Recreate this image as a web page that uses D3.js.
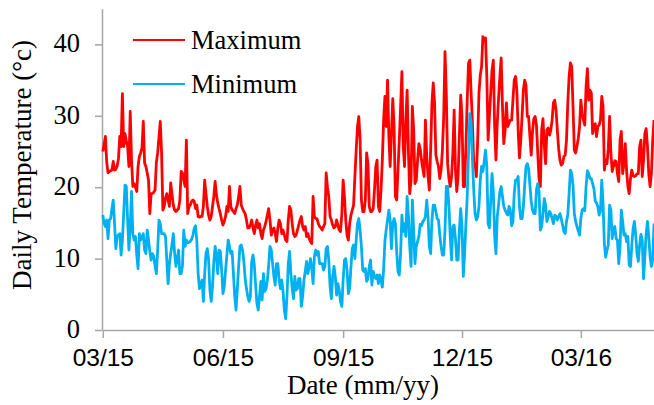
<!DOCTYPE html>
<html><head><meta charset="utf-8">
<script src="https://cdn.jsdelivr.net/npm/d3@7"></script>
<style>body{margin:0;background:#fff}svg{display:block}</style>
</head><body><svg id="chart" width="654" height="405"></svg>
<script>
// Daily series, starting 2015-03-01 (one value per day)
const startDateText = "2015-03-01";
const maxTemp = [
25.0,26.0,27.1,23.5,22.0,22.2,22.3,22.4,23.6,22.4,
22.5,23.0,24.0,27.1,25.7,33.1,25.7,27.5,26.5,25.7,
22.9,30.6,23.8,20.1,20.5,20.0,19.4,22.9,24.3,24.8,
25.5,29.2,23.4,22.9,22.0,21.0,16.3,19.1,19.1,19.3,
19.6,23.4,24.8,27.0,29.2,24.8,16.8,17.3,18.5,19.1,
18.2,17.3,20.6,19.0,17.5,16.8,16.6,16.8,17.0,18.2,
22.2,22.0,21.0,20.1,26.6,16.3,17.3,17.5,18.0,18.2,
18.0,
17.0,17.5,15.9,15.8,15.9,15.9,17.3,21.0,19.1,17.3,
16.1,15.4,15.9,17.3,18.7,20.8,18.9,17.8,17.0,16.3,
15.4,14.7,15.2,15.9,17.3,16.6,20.1,17.3,16.8,16.6,
16.3,17.0,17.5,18.7,20.1,17.5,17.0,16.6,16.3,15.4,
14.3,14.3,14.7,15.4,14.3,13.5,14.7,15.4,14.3,14.9,
13.5,12.8,14.0,14.5,15.2,16.1,17.0,15.4,13.3,14.0,
14.3,13.5,12.4,14.3,15.4,14.9,13.5,14.0,13.3,12.6,
12.4,15.4,17.3,
16.8,14.9,13.5,13.1,13.3,14.0,14.7,15.4,15.9,14.5,
14.0,14.5,13.1,13.5,12.8,12.4,12.1,18.7,15.9,15.6,
15.6,14.9,14.5,14.3,14.0,14.5,14.9,22.0,20.0,18.7,
15.9,15.4,14.7,14.3,14.5,15.4,14.7,14.0,13.8,16.3,
21.0,18.7,15.4,13.3,12.6,14.9,16.1,16.8,17.5,21.5,
25.2,28.5,29.9,26.6,18.2,16.6,16.6,18.2,24.8,23.3,
17.3,16.6,16.6,17.0,19.6,22.9,23.8,17.3,16.6,19.6,
23.8,29.4,32.7,
28.5,35.0,27.1,22.9,27.5,32.4,28.5,18.7,18.2,22.4,
26.6,31.3,36.2,25.7,22.9,29.4,33.6,24.8,19.1,21.0,
31.3,28.0,20.5,21.0,23.8,26.1,25.4,23.8,22.6,21.5,
29.4,24.3,21.5,19.6,25.2,31.8,34.6,31.8,24.5,23.6,
22.9,21.2,22.4,25.2,29.9,39.0,33.0,23.3,21.2,20.1,
21.5,24.8,30.8,22.4,19.4,21.5,27.1,32.9,29.9,20.1,
20.1,25.7,32.2,37.4,37.8,33.2,29.0,23.3,23.3,21.5,
26.6,33.2,35.7,
36.9,41.1,40.6,40.9,35.5,26.6,29.9,33.2,36.4,37.8,
28.5,23.8,29.0,32.4,35.5,38.1,31.3,26.1,28.0,31.8,
28.5,29.0,29.4,29.4,32.2,35.0,35.5,33.6,28.0,24.1,
26.6,29.9,33.6,35.0,34.3,29.9,29.9,27.1,24.5,27.8,
29.6,29.9,28.7,24.8,21.2,20.1,28.0,29.6,25.9,23.3,
28.0,28.3,27.3,28.0,29.4,31.8,32.2,30.8,28.0,25.4,
23.8,23.1,23.3,24.3,24.5,26.6,31.8,35.5,37.4,36.9,
31.3,25.2,
24.8,25.7,26.8,28.5,32.2,30.3,29.4,28.7,34.1,36.6,
32.2,33.6,33.2,27.5,28.7,28.9,27.1,28.5,28.7,29.4,
32.7,31.3,22.4,23.8,23.3,25.4,29.9,24.8,22.2,22.9,
23.7,23.6,21.9,20.8,26.6,27.8,21.9,23.3,26.1,22.4,
20.1,19.1,21.2,22.4,21.6,21.5,21.6,21.9,21.9,25.7,
26.6,21.5,23.8,27.5,28.2,25.7,21.9,20.1,21.9,26.6,
29.4
];
const minTemp = [
16.1,15.0,14.5,15.4,12.8,15.4,15.6,17.0,18.2,14.9,
11.4,13.1,13.3,13.5,10.5,12.6,16.3,20.3,20.1,15.4,
11.2,14.5,19.4,13.5,12.6,13.1,10.5,8.6,13.5,12.6,
13.0,13.5,11.2,10.7,14.0,12.6,11.0,9.8,10.7,10.3,
9.0,7.9,11.2,15.4,14.9,13.5,13.5,13.5,13.1,9.8,
6.5,9.3,10.7,12.0,13.5,10.7,8.9,10.0,11.2,7.9,
7.9,9.0,14.0,11.7,12.6,12.2,12.3,12.4,
12.7,13.3,14.2,14.6,12.4,7.9,5.8,6.3,7.0,4.0,
7.9,10.7,11.4,9.8,5.6,4.0,6.1,9.6,11.7,10.3,
7.9,11.2,11.0,8.4,5.1,6.1,8.4,10.5,12.6,11.7,
10.7,11.0,7.9,4.7,2.8,5.8,8.9,11.7,11.9,11.2,
9.6,7.2,5.8,4.7,4.0,4.7,9.6,10.5,9.1,6.3,
3.7,2.8,4.7,6.8,4.2,7.9,5.4,5.8,7.0,9.1,
11.7,11.2,9.3,7.5,6.3,9.3,9.3,7.0,5.8,7.0,
5.4,2.8,1.6,4.7,9.3,11.0,
7.9,5.8,4.4,7.5,5.6,5.8,7.2,7.2,3.3,4.7,
7.0,8.2,9.6,7.9,8.9,10.0,8.6,6.5,10.3,11.2,
10.5,11.0,9.3,9.3,9.3,8.4,8.9,11.4,11.7,9.8,
6.1,4.4,7.5,8.9,7.5,4.9,6.5,5.6,4.0,3.3,
7.0,9.8,10.0,8.4,5.1,5.8,8.9,11.4,11.9,10.0,
12.6,14.9,15.6,14.0,11.7,8.4,8.2,8.6,6.8,7.2,
8.9,9.8,6.3,8.2,7.5,7.2,7.7,6.5,7.7,7.0,
6.0,8.5,12.5,
14.1,15.4,16.8,15.4,11.4,14.9,15.6,14.9,11.0,8.2,
7.7,10.7,16.1,13.8,14.9,13.1,18.7,15.9,11.7,8.9,
18.2,14.0,9.3,11.7,12.4,13.1,14.8,14.6,15.2,15.4,
15.9,18.2,15.9,11.7,10.7,15.4,17.5,17.5,16.6,15.6,
15.4,13.3,11.7,10.5,10.5,14.0,20.1,20.1,17.3,13.1,
9.8,14.5,14.7,12.8,9.8,9.8,14.0,17.0,14.5,7.5,
10.7,14.9,18.7,24.8,30.3,29.0,23.8,19.6,16.3,15.4,
15.9,17.3,21.0,
22.9,22.2,23.6,25.2,22.9,14.9,14.3,18.2,21.9,19.4,
13.1,10.7,15.9,17.5,19.4,20.1,18.7,17.3,16.8,16.4,
16.1,17.3,16.8,14.6,15.2,19.1,21.0,21.0,21.5,17.3,
15.6,15.6,17.3,20.3,22.9,23.3,22.6,20.3,18.0,16.8,
16.3,16.3,19.6,20.5,19.4,14.0,14.5,16.3,18.4,17.5,
15.2,15.8,16.6,16.3,15.6,14.9,16.1,15.9,15.4,15.9,
16.3,15.6,14.7,13.8,13.5,15.2,16.1,19.1,22.4,21.9,
20.3,16.3,
15.2,14.5,13.9,13.3,15.6,16.8,17.0,16.7,20.1,22.3,
21.9,21.2,21.2,20.5,19.8,18.1,17.8,17.3,16.1,16.6,
21.0,17.7,12.1,10.2,11.2,11.9,17.5,16.8,12.8,14.2,
14.5,12.8,12.6,9.3,11.7,16.8,15.2,13.3,13.5,12.4,
13.1,9.1,8.9,11.9,14.2,15.2,13.3,10.7,9.6,11.9,
13.4,12.6,7.2,10.3,13.5,15.2,13.1,10.3,8.9,9.8,
14.9
];
const tickDateTexts = ["2015-03-01","2015-06-01","2015-09-01","2015-12-01","2016-03-01"];
const tickLabels = ["03/15","06/15","09/15","12/15","03/16"];
const yTickValues = [0,10,20,30,40];
const seriesNames = ["Maximum","Minimum"];
const seriesColors = ["#ff0000","#00b0f0"];

const parse = d3.timeParse("%Y-%m-%d");
const start = parse(startDateText);
const dateOf = i => d3.timeDay.offset(start, i);

const svg = d3.select("#chart");
const serif = "'Liberation Serif','Times New Roman',serif";
const axisColor = "#a6a6a6";

const x = d3.scaleTime()
  .domain([start, dateOf(maxTemp.length - 1)])
  .range([102.8, 654]);
const y = d3.scaleLinear().domain([0, 45]).range([330, 8.7]);

// Y axis
const gy = svg.append("g").attr("transform", "translate(102,0)")
  .call(d3.axisLeft(y).tickValues(yTickValues).tickSize(7).tickSizeOuter(0).tickPadding(15));
gy.select(".domain").attr("stroke", axisColor).attr("stroke-width", 1.5);
gy.selectAll(".tick line").attr("stroke", axisColor).attr("stroke-width", 1.5);
gy.selectAll(".tick text").attr("font-family", serif).attr("font-size", 26.5)
  .attr("dy", "0.28em").attr("fill", "#000");

// X axis
const tickDates = tickDateTexts.map(parse);
const gx = svg.append("g").attr("transform", "translate(0,330)")
  .call(d3.axisBottom(x).tickValues(tickDates).tickFormat((d, i) => tickLabels[i])
    .tickSize(8).tickSizeOuter(0));
gx.select(".domain").attr("stroke", axisColor).attr("stroke-width", 1.5);
gx.selectAll(".tick line").attr("stroke", axisColor).attr("stroke-width", 1.5);
gx.selectAll(".tick text").attr("font-family", "'Liberation Sans', Arial, sans-serif")
  .attr("font-size", 24.5).attr("y", 35.5).attr("dy", 0).attr("fill", "#000");

// Lines
const line = d3.line().x((d, i) => x(dateOf(i))).y(d => y(d));
[maxTemp, minTemp].forEach((series, k) => {
  svg.append("path").datum(series)
    .attr("fill", "none").attr("stroke", seriesColors[k])
    .attr("stroke-width", 2.8).attr("stroke-linejoin", "round")
    .attr("d", line);
});

// Legend
const legendY = [40, 84];
seriesNames.forEach((name, k) => {
  svg.append("line").attr("x1", 133).attr("x2", 185)
    .attr("y1", legendY[k]).attr("y2", legendY[k])
    .attr("stroke", seriesColors[k]).attr("stroke-width", 2.2);
  svg.append("text").attr("x", 191).attr("y", legendY[k]).attr("dy", "0.33em")
    .attr("font-family", serif).attr("font-size", 26.5).text(name);
});

// Axis titles
svg.append("text").attr("transform", "translate(22,165) rotate(-90)")
  .attr("text-anchor", "middle").attr("dy", "0.33em")
  .attr("font-family", serif).attr("font-size", 27).text("Daily Temperature (°c)");
svg.append("text").attr("x", 363).attr("y", 394).attr("text-anchor", "middle")
  .attr("font-family", serif).attr("font-size", 27).text("Date (mm/yy)");
</script></body></html>
